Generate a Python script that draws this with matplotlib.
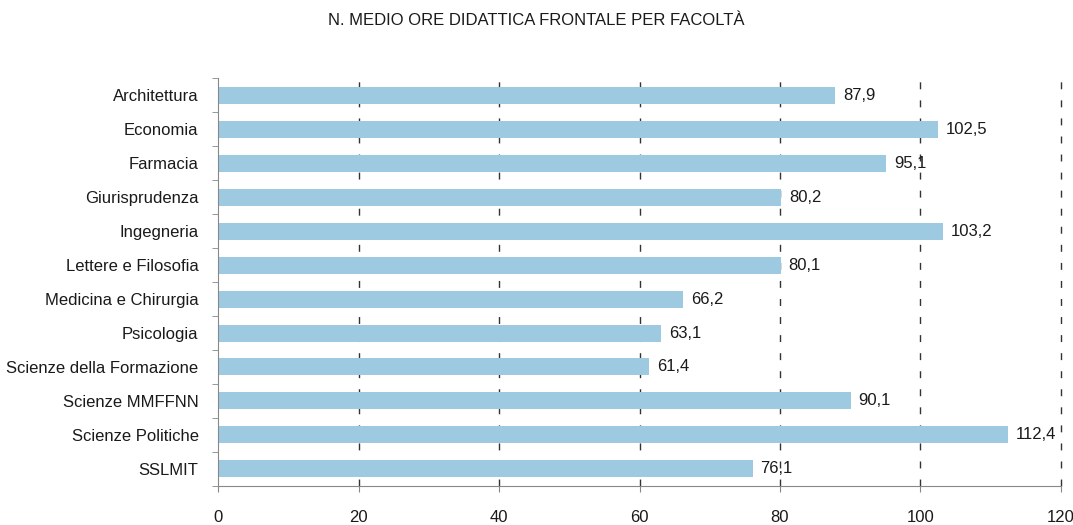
import numpy as np
import matplotlib.pyplot as plt
from matplotlib.ticker import MultipleLocator, FixedLocator

facolta = ["Architettura", "Economia", "Farmacia", "Giurisprudenza", "Ingegneria",
           "Lettere e Filosofia", "Medicina e Chirurgia", "Psicologia",
           "Scienze della Formazione", "Scienze MMFFNN", "Scienze Politiche", "SSLMIT"]
ore = [87.9, 102.5, 95.1, 80.2, 103.2, 80.1, 66.2, 63.1, 61.4, 90.1, 112.4, 76.1]
griglia = [20, 40, 60, 80, 100, 120]

plt.rcParams['font.family'] = ['Liberation Sans', 'DejaVu Sans']

fig = plt.figure(figsize=(10.73, 5.25), dpi=100)
ax = fig.add_axes([0.2032, 0.0743, 0.7856, 0.7771])

y = np.arange(len(facolta))
ax.barh(y, ore, height=0.5, color="#9ecae1", zorder=2)
for yi, v in zip(y, ore):
    ax.text(v + 1.1, yi, f"{v:.1f}".replace(".", ","), va="center", ha="left",
            fontsize=12, color="#1a1a1a", zorder=3)

ax.set_ylim(len(facolta) - 0.5, -0.5)
ax.set_xlim(0, 120)
ax.set_yticks(y)
ax.set_yticklabels(facolta, fontsize=12, color="#1a1a1a")
ax.yaxis.set_minor_locator(FixedLocator(np.arange(-0.5, len(facolta), 1)))
ax.tick_params(axis="y", which="major", length=0, pad=14)
ax.tick_params(axis="y", which="minor", length=4, color="#888888")
ax.xaxis.set_major_locator(MultipleLocator(20))
ax.tick_params(axis="x", which="major", length=4, color="#888888", labelsize=12,
               labelcolor="#1a1a1a", pad=13)

for g in griglia:
    ax.axvline(g, color="#333333", linestyle=(0, (5, 8)), linewidth=1, zorder=1,
               clip_on=False)
for s in ["top", "right"]:
    ax.spines[s].set_visible(False)
for s in ["left", "bottom"]:
    ax.spines[s].set_color("#888888")

fig.suptitle("N. MEDIO ORE DIDATTICA FRONTALE PER FACOLTÀ", x=0.5, y=0.975,
             fontsize=12, color="#1a1a1a")

fig.savefig("out.png", dpi=100)
